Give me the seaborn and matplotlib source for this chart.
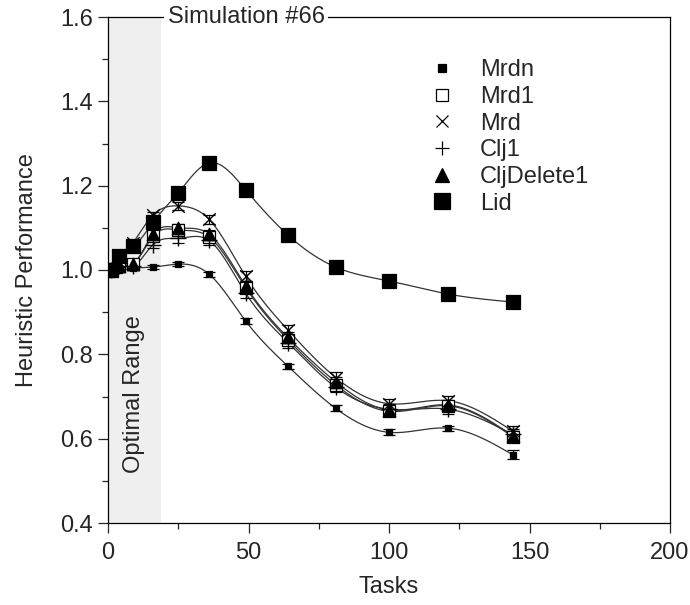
import numpy as np
import pandas as pd
import matplotlib
matplotlib.use("Agg")
import matplotlib.pyplot as plt
from matplotlib.lines import Line2D
import seaborn as sns

# task counts (squares 0..12)
tasks = [0, 1, 4, 9, 16, 25, 36, 49, 64, 81, 100, 121, 144]

mrdn = [1.0, 1.0, 1.0, 1.004, 1.007, 1.014, 0.99, 0.879, 0.772, 0.672, 0.615, 0.625, 0.562]
mrd1 = [1.0, 1.0, 1.01, 1.015, 1.08, 1.095, 1.078, 0.958, 0.835, 0.728, 0.665, 0.678, 0.605]
mrd = [1.0, 1.0, 1.02, 1.065, 1.13, 1.152, 1.12, 0.985, 0.858, 0.745, 0.683, 0.69, 0.618]
clj1 = [1.0, 1.0, 1.01, 1.01, 1.06, 1.075, 1.07, 0.945, 0.828, 0.722, 0.67, 0.67, 0.61]
cljdel1 = [1.0, 1.0, 1.01, 1.015, 1.085, 1.10, 1.085, 0.962, 0.84, 0.735, 0.668, 0.68, 0.607]
lid = [1.0, 1.0, 1.033, 1.057, 1.113, 1.183, 1.254, 1.19, 1.083, 1.007, 0.974, 0.943, 0.924]

# error bar half-widths
err_mrdn = [0, 0, 0.002, 0.003, 0.004, 0.005, 0.006, 0.006, 0.006, 0.007, 0.007, 0.006, 0.01]
err_other = [0, 0, 0.004, 0.006, 0.008, 0.01, 0.01, 0.012, 0.012, 0.012, 0.012, 0.012, 0.012]

methods = ["Mrdn", "Mrd1", "Mrd", "Clj1", "CljDelete1", "Lid"]
values = [mrdn, mrd1, mrd, clj1, cljdel1, lid]
errors = [err_mrdn, err_other, err_other, err_other, err_other, err_other]

# marker, size (pt), face colour
styles = {
    "Mrdn": ("s", 5, "black"),
    "Mrd1": ("s", 8, "white"),
    "Mrd": ("x", 9, "black"),
    "Clj1": ("+", 11, "black"),
    "CljDelete1": ("^", 9, "black"),
    "Lid": ("s", 10, "black"),
}


def natural_spline(x, y, n=400):
    x = np.asarray(x, float)
    y = np.asarray(y, float)
    k = len(x)
    h = np.diff(x)
    A = np.zeros((k, k))
    b = np.zeros(k)
    A[0, 0] = A[-1, -1] = 1
    for i in range(1, k - 1):
        A[i, i - 1] = h[i - 1]
        A[i, i] = 2 * (h[i - 1] + h[i])
        A[i, i + 1] = h[i]
        b[i] = 6 * ((y[i + 1] - y[i]) / h[i] - (y[i] - y[i - 1]) / h[i - 1])
    M = np.linalg.solve(A, b)
    xs = np.linspace(x[0], x[-1], n)
    idx = np.clip(np.searchsorted(x, xs) - 1, 0, k - 2)
    x0, x1 = x[idx], x[idx + 1]
    hh = x1 - x0
    t0, t1 = x1 - xs, xs - x0
    ys = (M[idx] * t0 ** 3 + M[idx + 1] * t1 ** 3) / (6 * hh) \
        + (y[idx] / hh - M[idx] * hh / 6) * t0 \
        + (y[idx + 1] / hh - M[idx + 1] * hh / 6) * t1
    return xs, ys


sns.set_style("ticks")
plt.rcParams["font.family"] = ["Liberation Sans", "DejaVu Sans"]
plt.rcParams["font.size"] = 17

fig = plt.figure(figsize=(6.9, 6.05), dpi=100)
ax = fig.add_axes([108 / 690, 1 - 523 / 605, 562 / 690, 506 / 605])

# optimal range shading
ax.axvspan(0, 18.8, color="#efefef", lw=0, zorder=0)
ax.text(9.4, 0.705, "Optimal Range", rotation=90, ha="center", va="center", fontsize=17)

# smooth curves
smooth = []
for name, vals in zip(methods, values):
    xs, ys = natural_spline(tasks, vals)
    smooth.append(pd.DataFrame({"tasks": xs, "perf": ys, "method": name}))
smooth = pd.concat(smooth)
sns.lineplot(data=smooth, x="tasks", y="perf", units="method", estimator=None,
             color="#333333", lw=0.9, ax=ax, legend=False, zorder=2)

# error bars + markers
for name, vals, err in zip(methods, values, errors):
    ax.errorbar(tasks, vals, yerr=err, fmt="none", ecolor="black", elinewidth=0.9,
                capsize=4.5, capthick=0.9, zorder=3)
    m, ms, fc = styles[name]
    sns.scatterplot(x=tasks, y=vals, marker=m, s=ms ** 2, color=fc,
                    edgecolor="black", linewidth=0.9 if m in "s^" else 1.0,
                    ax=ax, zorder=4 if name != "Lid" else 5, legend=False)

ax.set_xlim(0, 200)
ax.set_ylim(0.4, 1.6)
ax.set_xticks([0, 50, 100, 150, 200])
ax.set_xticks([25, 75, 125, 175], minor=True)
ax.set_yticks([0.4, 0.6, 0.8, 1.0, 1.2, 1.4, 1.6])
ax.set_yticks(np.arange(0.5, 1.6, 0.2), minor=True)
ax.yaxis.set_major_formatter(matplotlib.ticker.FormatStrFormatter("%.1f"))
ax.tick_params(which="major", direction="out", length=7.5, width=0.9, labelsize=17)
ax.tick_params(axis="x", which="major", pad=6)
ax.tick_params(which="minor", direction="out", length=4.5, width=0.9)
for sp in ax.spines.values():
    sp.set_visible(True)
    sp.set_linewidth(0.9)
    sp.set_color("black")
ax.set_xlabel("Tasks", fontsize=17, labelpad=9)
ax.set_ylabel("Heuristic Performance", fontsize=17, labelpad=16)

ax.text(0.246, 1.0, "Simulation #66", transform=ax.transAxes, ha="center", va="center",
        fontsize=17, bbox=dict(facecolor="white", edgecolor="none", pad=2.5), zorder=10)

handles = []
for name in methods:
    m, ms, fc = styles[name]
    lms = {"Mrdn": 6, "Mrd1": 9, "Mrd": 9, "Clj1": 10, "CljDelete1": 10, "Lid": 11}[name]
    handles.append(Line2D([], [], ls="none", marker=m, markersize=lms,
                          markerfacecolor=fc, markeredgecolor="black",
                          color="black", markeredgewidth=0.9, label=name))
ax.legend(handles=handles, loc="center left", bbox_to_anchor=(0.557, 0.763),
          frameon=False, handlelength=1.0, handletextpad=1.1, labelspacing=0.2,
          borderaxespad=0, fontsize=17)

fig.savefig("out.png", dpi=100)
